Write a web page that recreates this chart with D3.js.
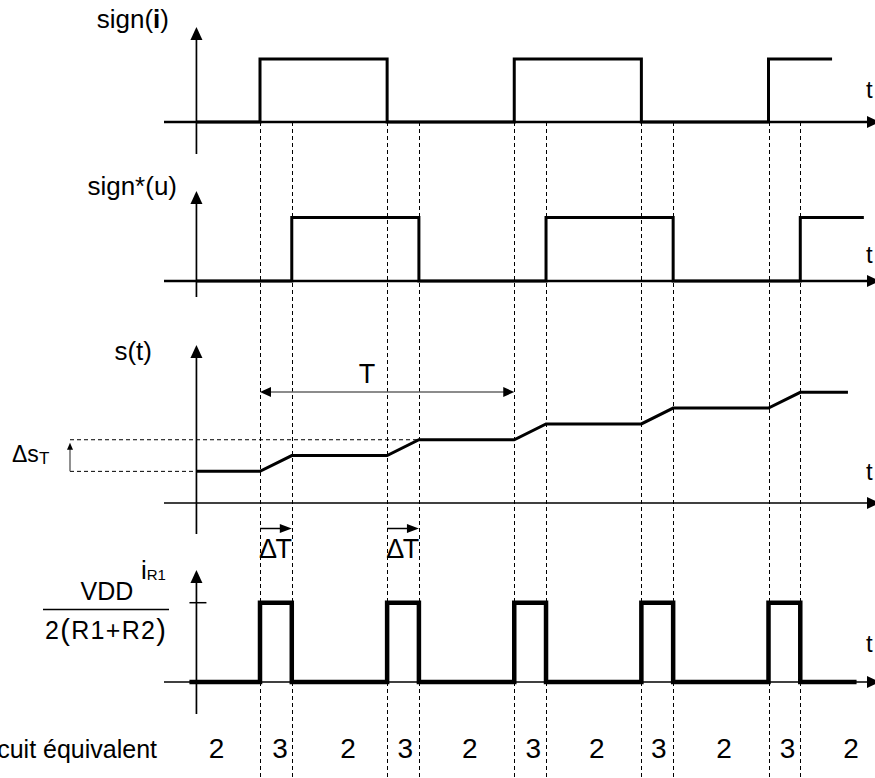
<!DOCTYPE html>
<html>
<head>
<meta charset="utf-8">
<script src="https://cdn.jsdelivr.net/npm/d3@7"></script>
<style>
  html, body { margin: 0; padding: 0; background: #fff; }
  svg { display: block; font-family: "Liberation Sans", Arial, sans-serif; }
</style>
</head>
<body>
<svg id="chart" width="875" height="778"></svg>
<script>
// Time is measured in units of ΔT; the period T spans 8 units.
const switchTimes = [0, 1, 4, 5, 8, 9, 12, 13, 16, 17];

// sign(i): square wave, high for half a period
const signITimes  = [-2, 0, 0, 4, 4, 8, 8, 12, 12, 16, 16, 18];
const signIValues = [ 0, 0, 1, 1, 0, 0, 1,  1,  0,  0,  1,  1];

// sign*(u): same wave delayed by ΔT
const signUTimes  = [-2, 1, 1, 5, 5, 9, 9, 13, 13, 17, 17, 19];
const signUValues = [ 0, 0, 1, 1, 0, 0, 1,  1,  0,  0,  1,  1];

// s(t): staircase rising one step during each ΔT window
const sTimes  = [-2, 0, 1, 4, 5, 8, 9, 12, 13, 16, 17, 18.5];
const sValues = [ 2, 2, 3, 3, 4, 4, 5,  5,  6,  6,  7,  7];

// i_R1: pulses of height VDD / 2(R1+R2) during each ΔT window
const iTimes  = [-2.15, 0, 0, 1, 1, 4, 4, 5, 5, 8, 8, 9, 9, 12, 12, 13, 13, 16, 16, 17, 17, 18.7];
const iValues = [ 0,    0, 1, 1, 0, 0, 1, 1, 0, 0, 1, 1, 0,  0,  1,  1,  0,  0,  1,  1,  0,  0];

// equivalent circuit active in each interval
const circuitLabels = ["2", "3", "2", "3", "2", "3", "2", "3", "2", "3", "2"];
const circuitLabelTimes = [-1.37, 0.63, 2.77, 4.57, 6.6, 8.6, 10.6, 12.55, 14.6, 16.6, 18.6];

const svg = d3.select("#chart");
svg.append("rect").attr("width", 875).attr("height", 778).attr("fill", "#fff");

const x = d3.scaleLinear().domain([0, 16]).range([260, 768.5]);

const panels = [
  { name: "signI", top: 27,  axisY: 122, bottom: 154, y: d3.scaleLinear().domain([0, 1]).range([122, 59]),
    times: signITimes, values: signIValues, width: 3, axisWidth: 2.6, tY: 98 },
  { name: "signU", top: 191, axisY: 281, bottom: 297, y: d3.scaleLinear().domain([0, 1]).range([281, 217.5]),
    times: signUTimes, values: signUValues, width: 3, axisWidth: 2.6, tY: 263 },
  { name: "s", top: 345, axisY: 503, bottom: 534, y: d3.scaleLinear().domain([0, 7]).range([503, 392.3]),
    times: sTimes, values: sValues, width: 3, axisWidth: 1.7, tY: 480 },
  { name: "iR1", top: 570, axisY: 682, bottom: 714, y: d3.scaleLinear().domain([0, 1]).range([682, 602.7]),
    times: iTimes, values: iValues, width: 4.5, axisWidth: 1.7, tY: 652 }
];

const axisX = x(-2);
const hStart = 164, hEnd = 880;

// dashed switching instants
svg.append("g").selectAll("line").data(switchTimes).join("line")
  .attr("x1", d => Math.round(x(d)) + 0.5).attr("x2", d => Math.round(x(d)) + 0.5)
  .attr("y1", 122).attr("y2", 778)
  .attr("stroke", "#000").attr("stroke-width", 1).attr("stroke-dasharray", "4,3");

function arrowHead(g, tipX, tipY, dir, len, half, fill) {
  let pts;
  if (dir === "up")    pts = [[tipX, tipY], [tipX - half, tipY + len], [tipX + half, tipY + len]];
  if (dir === "right") pts = [[tipX, tipY], [tipX - len, tipY - half], [tipX - len, tipY + half]];
  if (dir === "left")  pts = [[tipX, tipY], [tipX + len, tipY - half], [tipX + len, tipY + half]];
  g.append("path").attr("d", "M" + pts.map(p => p.join(",")).join("L") + "Z").attr("fill", fill || "#000");
}

// axes
panels.forEach(p => {
  const g = svg.append("g");
  g.append("line").attr("x1", axisX).attr("x2", axisX).attr("y1", p.top + 8).attr("y2", p.bottom)
    .attr("stroke", "#000").attr("stroke-width", 1.7);
  arrowHead(g, axisX, p.top, "up", 13, 6);
  g.append("line").attr("x1", hStart).attr("x2", hEnd - 8).attr("y1", p.axisY).attr("y2", p.axisY)
    .attr("stroke", "#000").attr("stroke-width", p.axisWidth);
  arrowHead(g, hEnd, p.axisY, "right", 13, 6);
  g.append("text").attr("x", 866).attr("y", p.tY).attr("font-size", 24).text("t");
});

// signals
panels.forEach(p => {
  const pts = p.times.map((t, i) => [t, p.values[i]]);
  const line = d3.line().x(d => x(d[0])).y(d => p.y(d[1]));
  svg.append("path").attr("d", line(pts)).attr("fill", "none")
    .attr("stroke", "#000").attr("stroke-width", p.width)
    .attr("stroke-linejoin", "miter").attr("stroke-linecap", p.name === "iR1" ? "square" : "butt");
});

// level tick on the i_R1 axis
const pI = panels[3];
svg.append("line").attr("x1", axisX - 7).attr("x2", axisX + 10)
  .attr("y1", pI.y(1)).attr("y2", pI.y(1)).attr("stroke", "#000").attr("stroke-width", 1.5);

// axis titles
svg.append("text").attr("x", 169).attr("y", 28).attr("font-size", 26).attr("text-anchor", "end")
  .call(t => { t.append("tspan").text("sign("); t.append("tspan").attr("font-weight", "bold").text("i"); t.append("tspan").text(")"); });
svg.append("text").attr("x", 177).attr("y", 195).attr("font-size", 26).attr("text-anchor", "end").text("sign*(u)");
svg.append("text").attr("x", 152).attr("y", 360).attr("font-size", 26).attr("text-anchor", "end").text("s(t)");

// i_R1 label and its level
svg.append("text").attr("x", 141).attr("y", 579).attr("font-size", 26)
  .call(t => { t.append("tspan").text("i"); t.append("tspan").attr("font-size", 15).attr("dy", 1).text("R1"); });
svg.append("text").attr("x", 107).attr("y", 600).attr("font-size", 25).attr("text-anchor", "middle").text("VDD");
svg.append("line").attr("x1", 43).attr("x2", 169).attr("y1", 609.5).attr("y2", 609.5)
  .attr("stroke", "#000").attr("stroke-width", 1.5);
svg.append("text").attr("x", 45).attr("y", 639).attr("font-size", 25)
  .attr("textLength", 121).attr("lengthAdjust", "spacing")
  .call(t => {
    t.append("tspan").text("2");
    t.append("tspan").attr("font-size", 29).attr("dy", 1).text("(");
    t.append("tspan").attr("dy", -1).text("R1+R2");
    t.append("tspan").attr("font-size", 29).attr("dy", 1).text(")");
  });

// period T
const sP = panels[2];
const gT = svg.append("g");
gT.append("line").attr("x1", x(0) + 8).attr("x2", x(8) - 8).attr("y1", 392).attr("y2", 392)
  .attr("stroke", "#666").attr("stroke-width", 1.6);
arrowHead(gT, x(0), 392, "left", 11, 5);
arrowHead(gT, x(8), 392, "right", 11, 5);
gT.append("text").attr("x", x(3.37)).attr("y", 383).attr("font-size", 27).attr("text-anchor", "middle").text("T");

// ΔT delays
[0, 4].forEach(t0 => {
  const g = svg.append("g");
  g.append("line").attr("x1", x(t0)).attr("x2", x(t0 + 1) - 8).attr("y1", 528.5).attr("y2", 528.5)
    .attr("stroke", "#000").attr("stroke-width", 1.5);
  arrowHead(g, x(t0 + 1), 528.5, "right", 12, 4.5);
  g.append("text").attr("x", x(t0) - 1).attr("y", 558).attr("font-size", 27).attr("letter-spacing", -1.5).text("ΔT");
});

// Δs_T step over one period
const gS = svg.append("g");
gS.append("line").attr("x1", 70).attr("x2", axisX).attr("y1", sP.y(2)).attr("y2", sP.y(2))
  .attr("stroke", "#000").attr("stroke-width", 1).attr("stroke-dasharray", "4,3");
gS.append("line").attr("x1", 70).attr("x2", x(5)).attr("y1", sP.y(4)).attr("y2", sP.y(4))
  .attr("stroke", "#000").attr("stroke-width", 1).attr("stroke-dasharray", "4,3");
gS.append("line").attr("x1", 70).attr("x2", 70).attr("y1", sP.y(2)).attr("y2", sP.y(4) + 8)
  .attr("stroke", "#555").attr("stroke-width", 1.3);
arrowHead(gS, 70, sP.y(4) + 3, "up", 7, 3);
svg.append("text").attr("x", 12).attr("y", 462).attr("font-size", 23)
  .call(t => { t.append("tspan").text("Δs"); t.append("tspan").attr("font-size", 17).attr("dy", 2).text("T"); });

// equivalent circuit per interval
svg.append("text").attr("x", 157).attr("y", 758).attr("font-size", 25).attr("text-anchor", "end").text("Circuit équivalent");
svg.append("g").selectAll("text").data(circuitLabels).join("text")
  .attr("x", (d, i) => x(circuitLabelTimes[i])).attr("y", 758)
  .attr("font-size", 28).attr("text-anchor", "middle").text(d => d);
</script>
</body>
</html>
